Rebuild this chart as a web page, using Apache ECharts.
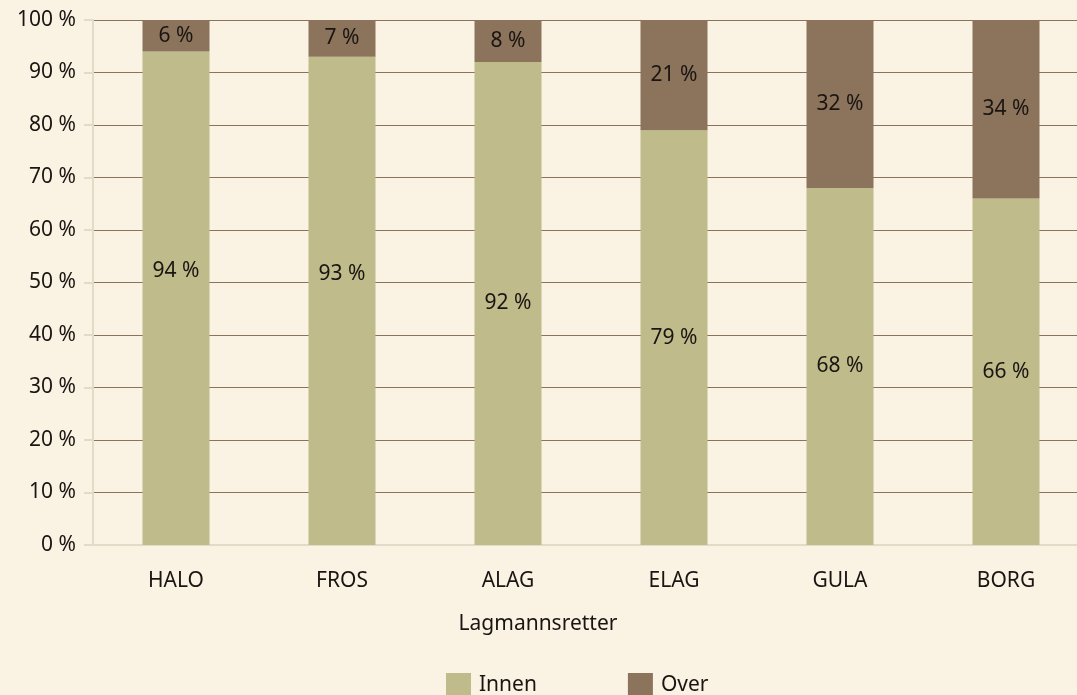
<!DOCTYPE html>
<html>
<head>
<meta charset="utf-8">
<script src="https://cdn.jsdelivr.net/npm/echarts@6/dist/echarts.min.js"></script>
<style>
  html, body { margin: 0; padding: 0; background: #faf2e2; }
  #main { width: 1077px; height: 695px; }
</style>
</head>
<body>
<div id="main"></div>
<script>
// data
var courts = ['HALO', 'FROS', 'ALAG', 'ELAG', 'GULA', 'BORG'];
var innen = [94, 93, 92, 79, 68, 66];
var over = [6, 7, 8, 21, 32, 34];
var yTicks = [0, 10, 20, 30, 40, 50, 60, 70, 80, 90, 100];

var textCol = '#1a1512';
var axisCol = '#e3dbc8';
var font = 'Noto Sans';
var fs = 21;

var chart = echarts.init(document.getElementById('main'));

var labelOption = {
    show: true,
    position: 'inside',
    formatter: '{c} %',
    fontSize: fs,
    fontFamily: font,
    color: textCol
};

// the first two Innen labels sit a bit higher in the original
var innenData = innen.map(function (v, i) {
    if (i < 2) {
        return { value: v, label: { offset: [0, -27] } };
    }
    return v;
});

var option = {
    backgroundColor: '#faf2e2',
    animation: false,
    color: ['#bfbb8a', '#8c735c'],
    // plot runs past the right edge of the window, like the original
    grid: {
        left: 93,
        top: 20,
        bottom: 150,
        width: 996,
        outerBoundsMode: 'none'
    },
    legend: {
        data: ['Innen', 'Over'],
        left: 441,
        top: 668,
        icon: 'rect',
        itemWidth: 25,
        itemHeight: 25,
        itemGap: 91,
        textStyle: {
            fontSize: fs,
            fontFamily: font,
            color: textCol,
            padding: [0, 0, 0, 3]
        }
    },
    xAxis: {
        type: 'category',
        data: courts,
        name: 'Lagmannsretter',
        nameLocation: 'middle',
        nameGap: 69,
        nameTextStyle: {
            fontSize: fs,
            fontFamily: font,
            color: textCol,
            padding: [0, 106, 0, 0]
        },
        axisLine: { lineStyle: { color: axisCol, width: 2 } },
        axisTick: { length: 9, lineStyle: { color: axisCol, width: 2 } },
        axisLabel: { margin: 26, fontSize: fs, fontFamily: font, color: textCol }
    },
    yAxis: {
        type: 'value',
        min: yTicks[0],
        max: yTicks[yTicks.length - 1],
        interval: 10,
        axisLine: { show: true, lineStyle: { color: axisCol, width: 2 } },
        axisTick: { show: true, length: 9, lineStyle: { color: axisCol, width: 2 } },
        axisLabel: {
            margin: 17,
            formatter: '{value} %',
            fontSize: fs,
            fontFamily: font,
            color: textCol
        },
        splitLine: { lineStyle: { color: '#8c735c', width: 1.2 } }
    },
    series: [
        {
            name: 'Innen',
            type: 'bar',
            stack: 'total',
            barWidth: 67,
            label: labelOption,
            data: innenData
        },
        {
            name: 'Over',
            type: 'bar',
            stack: 'total',
            barWidth: 67,
            label: labelOption,
            data: over
        }
    ]
};

chart.setOption(option);
</script>
</body>
</html>
